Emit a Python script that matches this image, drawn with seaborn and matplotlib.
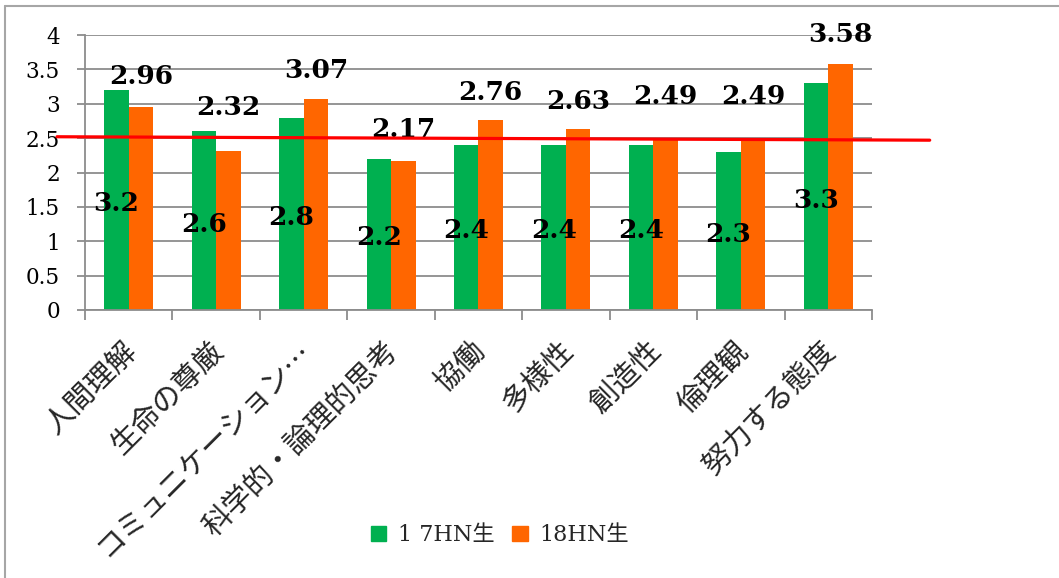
import matplotlib
matplotlib.use("Agg")
import matplotlib.pyplot as plt
from matplotlib.lines import Line2D
from matplotlib.ticker import FixedLocator, MultipleLocator
from matplotlib.transforms import ScaledTranslation
import seaborn as sns
import pandas as pd

# ---- data ----
categories = ["人間理解", "生命の尊厳", "コミュニケーション…", "科学的・論理的思考",
              "協働", "多様性", "創造性", "倫理観", "努力する態度"]
series_names = ["1 7HN生", "18HN生"]
values_17 = [3.2, 2.6, 2.8, 2.2, 2.4, 2.4, 2.4, 2.3, 3.3]
values_18 = [2.96, 2.32, 3.07, 2.17, 2.76, 2.63, 2.49, 2.49, 3.58]
reference_y = [2.52, 2.47]          # red reference line (left end, right end)

# ---- style ----
GREEN = "#00B050"
ORANGE = "#FF6600"
GRID = "#8C8C8C"
label_lift = [0.43, 0.63, 0.42, 0.45, 0.41, 0.40, 0.61, 0.61, 0.42]
serif = ["DejaVu Serif", "Noto Sans CJK JP"]
jp = ["Noto Sans CJK JP", "DejaVu Sans"]

sns.set_theme(style="white")
plt.rcParams["font.family"] = serif

df = pd.DataFrame({
    "category": categories * 2,
    "series": [series_names[0]] * len(categories) + [series_names[1]] * len(categories),
    "value": values_17 + values_18,
})

fig = plt.figure(figsize=(10.59, 5.78), dpi=100)
ax = fig.add_axes([85 / 1059, 1 - 310 / 578, (872 - 85) / 1059, (310 - 35) / 578])

sns.barplot(data=df, x="category", y="value", hue="series",
            palette={series_names[0]: GREEN, series_names[1]: ORANGE},
            width=0.56, linewidth=0, saturation=1, ax=ax, legend=True)

ax.set_xlim(-0.5, len(categories) - 0.5)
ax.set_ylim(0, 4)
ax.yaxis.set_major_locator(MultipleLocator(0.5))
ax.set_yticklabels([f"{t:g}" for t in ax.get_yticks()])
ax.set_xlabel("")
ax.set_ylabel("")

# gridlines and spines
ax.grid(axis="y", color=GRID, linewidth=1.3)
ax.set_axisbelow(True)
for s in ["top", "right"]:
    ax.spines[s].set_visible(False)
for s in ["left", "bottom"]:
    ax.spines[s].set_color(GRID)
    ax.spines[s].set_linewidth(1.3)

ax.tick_params(axis="y", which="major", direction="out", length=6, width=1.3,
               color=GRID, labelsize=15.5, pad=12, left=True)
ax.yaxis.set_tick_params(labelcolor="black")

# category labels at centres, boundary ticks as minor ticks
ax.xaxis.set_minor_locator(FixedLocator([i - 0.5 for i in range(len(categories) + 1)]))
ax.tick_params(axis="x", which="minor", direction="out", length=7, width=1.3,
               color=GRID, bottom=True)
ax.tick_params(axis="x", which="major", length=0, pad=19)
shift = ScaledTranslation(-7 / 100, 0, fig.dpi_scale_trans)
for lbl in ax.get_xticklabels():
    lbl.set_rotation(45)
    lbl.set_ha("right")
    lbl.set_va("top")
    lbl.set_rotation_mode("anchor")
    lbl.set_fontfamily(jp)
    lbl.set_fontsize(21)
    lbl.set_transform(lbl.get_transform() + shift)

# value labels
green_bars, orange_bars = ax.containers[0], ax.containers[1]
for bar, v in zip(green_bars, values_17):
    ax.text(bar.get_x() + bar.get_width() / 2, v / 2 - 0.05, f"{v:g}",
            ha="center", va="center", fontsize=19, fontweight="bold",
            fontfamily=serif, color="black")
for bar, v, lift in zip(orange_bars, values_18, label_lift):
    ax.text(bar.get_x() + bar.get_width() / 2, v + lift, f"{v:g}",
            ha="center", va="center", fontsize=19, fontweight="bold",
            fontfamily=serif, color="black", clip_on=False)

# red reference line spanning past the plot area
ax.plot([-0.82, 9.16], reference_y, color="#FF0000", linewidth=2.3,
        clip_on=False, zorder=5)

# legend
handles = [plt.Rectangle((0, 0), 1, 1, color=GREEN), plt.Rectangle((0, 0), 1, 1, color=ORANGE)]
ax.legend(handles, series_names, loc="center", bbox_to_anchor=(500 / 1059, 1 - 535 / 578),
          bbox_transform=fig.transFigure, ncol=2, frameon=False,
          prop={"family": serif, "size": 16}, handlelength=0.68, handleheight=0.68,
          handletextpad=0.55, columnspacing=0.8)

# chart frame (top and left edges)
fig.add_artist(Line2D([5 / 1059, 5 / 1059], [0, 1 - 6 / 578], transform=fig.transFigure,
                      color="#A6A6A6", linewidth=1.5))
fig.add_artist(Line2D([5 / 1059, 1], [1 - 6 / 578, 1 - 6 / 578], transform=fig.transFigure,
                      color="#A6A6A6", linewidth=1.5))

fig.savefig("out.png", dpi=100)
